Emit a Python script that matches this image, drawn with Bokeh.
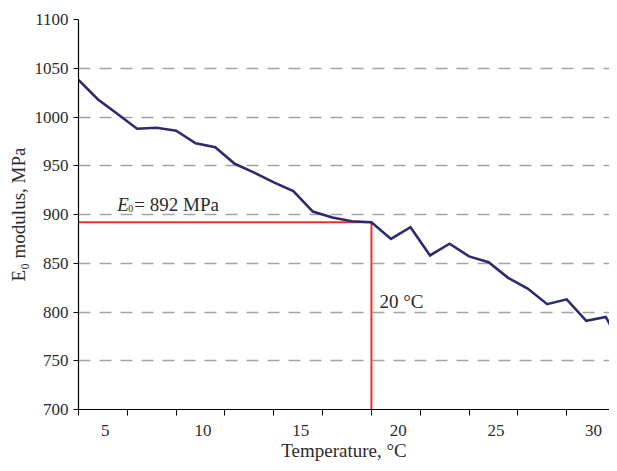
from bokeh.plotting import figure
from bokeh.models import FixedTicker, Range1d, Label
from bokeh.embed import file_html
from bokeh.resources import INLINE

# ---- data ----
temperature = [5, 6, 7, 8, 9, 10, 11, 12, 13, 14, 15, 16, 17, 18, 19,
               20, 21, 22, 23, 24, 25, 26, 27, 28, 29, 30, 31, 32, 33]
e_modulus = [1038, 1018, 1003, 988, 989, 986, 973, 969, 952, 943, 933, 924, 903, 897, 893,
             892, 875, 887, 858, 870, 857, 851, 835, 824, 808, 813, 791, 795, 758]
ref_temperature = 20
ref_modulus = 892
x_tick_values = [5, 10, 15, 20, 25, 30]
x_tick_labels = ["5", "10", "15", "20", "25", "30"]
x_tick_marks = [5, 7.5, 10, 12.5, 15, 17.5, 20, 22.5, 25, 27.5, 30, 32.5]
y_ticks = [700, 750, 800, 850, 900, 950, 1000, 1050, 1100]

FONT = "Liberation Serif"
TXT = "#2b2b2b"
LBL_SHIFT = 1.375  # category-style label placement (between tick marks)

p = figure(width=609, height=463, output_backend="svg", toolbar_location=None,
           x_range=Range1d(5, 32.19), y_range=Range1d(700, 1100),
           min_border_left=78, min_border_right=0, min_border_top=19,
           min_border_bottom=53)
p.outline_line_color = None
p.background_fill_color = "white"
p.border_fill_color = "white"

# x axis
label_pos = [v + LBL_SHIFT for v in x_tick_values]
p.xaxis.ticker = FixedTicker(ticks=label_pos, minor_ticks=x_tick_marks)
p.xaxis.major_label_overrides = {pos: lab for pos, lab in zip(label_pos, x_tick_labels)}
p.xaxis.major_tick_out = 0
p.xaxis.major_tick_in = 0
p.xaxis.minor_tick_out = 6
p.xaxis.minor_tick_in = 0
p.xaxis.minor_tick_line_color = "black"
p.xaxis.axis_label = "Temperature, °C"
p.xaxis.major_label_standoff = 9
p.xaxis.axis_label_standoff = 1

# y axis
p.yaxis.ticker = FixedTicker(ticks=y_ticks)
p.yaxis.major_tick_out = 5
p.yaxis.major_tick_in = 0
p.yaxis.minor_tick_line_color = None
p.yaxis.axis_label = "E\u2080 modulus, MPa"
p.yaxis.major_label_standoff = 5
p.yaxis.axis_label_standoff = 3

for ax in (p.xaxis, p.yaxis):
    ax.axis_line_color = "black"
    ax.axis_line_width = 1.2
    ax.major_tick_line_color = "black"
    ax.major_label_text_font = FONT
    ax.major_label_text_font_size = "17px"
    ax.major_label_text_color = TXT
    ax.axis_label_text_font = FONT
    ax.axis_label_text_font_size = "19px"
    ax.axis_label_text_font_style = "normal"
    ax.axis_label_text_color = TXT

# grid
p.xgrid.grid_line_color = None
p.ygrid.grid_line_color = "#a3a3a3"
p.ygrid.grid_line_width = 1.3
p.ygrid.grid_line_dash = "12 9"

# reference lines
x0 = p.x_range.start
y0 = p.y_range.start
p.line([x0, ref_temperature, ref_temperature], [ref_modulus, ref_modulus, y0],
       line_color="#e8322b", line_width=2)

# data
p.line(temperature, e_modulus, line_color="#2d2a6e", line_width=2.6, line_join="miter")

# annotations
ann_x = 6.99
ann_y = 910
p.add_layout(Label(x=ann_x, y=ann_y, text="E", text_font=FONT, text_font_size="19px",
                   text_font_style="italic", text_color=TXT, text_baseline="alphabetic"))
p.add_layout(Label(x=ann_x, y=ann_y, x_offset=11, y_offset=-4, text="0", text_font=FONT,
                   text_font_size="10px", text_color=TXT, text_baseline="alphabetic"))
p.add_layout(Label(x=ann_x, y=ann_y, x_offset=17, text="= " + str(ref_modulus) + " MPa",
                   text_font=FONT, text_font_size="19px", text_color=TXT,
                   text_baseline="alphabetic"))
p.add_layout(Label(x=ref_temperature, y=810.5, x_offset=8,
                   text=str(ref_temperature) + " °C", text_font=FONT, text_font_size="19px",
                   text_color=TXT, text_baseline="alphabetic"))

open("out.html", "w").write(file_html(p, INLINE))
